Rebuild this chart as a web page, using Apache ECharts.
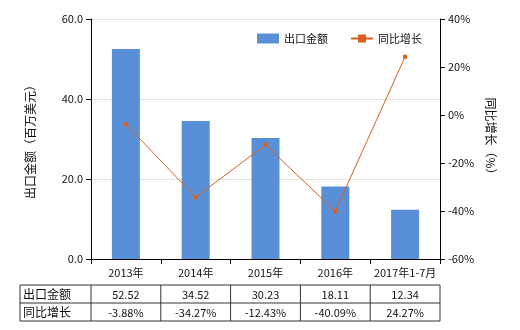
<!DOCTYPE html>
<html><head><meta charset="utf-8">
<script src="https://cdn.jsdelivr.net/npm/echarts@6/dist/echarts.min.js"></script>
<style>html,body{margin:0;padding:0;background:#fff}#c{width:520px;height:330px}</style>
</head><body><div id="c"></div>
<script>
const categories = ['2013年','2014年','2015年','2016年','2017年1-7月'];
const exportValues = [52.52, 34.52, 30.23, 18.11, 12.34];
const growthValues = [-3.88, -34.27, -12.43, -40.09, 24.27];
const rowNames = ['出口金额','同比增长'];
const leftTicks = {min:0, max:60, interval:20};
const rightTicks = {min:-60, max:40, interval:20};

const font = 'Noto Sans CJK SC, sans-serif';
const G = {left:91, right:440, top:19, bottom:259};
const chart = echarts.init(document.getElementById('c'));

// table graphics
const tbl = [];
const colX = [20, 91];
const cw = (G.right - G.left)/categories.length;
for (let i=1;i<=categories.length;i++) colX.push(G.left + cw*i);
const rowY = [285, 303, 321];
const lineStyle = {stroke:'#333', lineWidth:1};
rowY.forEach(y => tbl.push({type:'line', shape:{x1:colX[0], y1:y, x2:colX[colX.length-1], y2:y}, style:lineStyle}));
colX.forEach(x => tbl.push({type:'line', shape:{x1:x, y1:rowY[0], x2:x, y2:rowY[2]}, style:lineStyle}));
const rows = [exportValues.map(v=>v.toFixed(2)), growthValues.map(v=>v.toFixed(2)+'%')];
rows.forEach((r, ri) => {
  const cy = (rowY[ri]+rowY[ri+1])/2;
  tbl.push({type:'text', x:colX[0]+3, y:cy, style:{text:rowNames[ri], font:'12px '+font, fill:'#111', verticalAlign:'middle', align:'left'}});
  r.forEach((t, ci) => {
    tbl.push({type:'text', x:(colX[ci+1]+colX[ci+2])/2, y:cy+1, style:{text:t, font:'11px '+font, fill:'#111', verticalAlign:'middle', align:'center'}});
  });
});

chart.setOption({
  animation:false,
  textStyle:{fontFamily:font},
  grid:{left:G.left, right:520-G.right, top:G.top, bottom:330-G.bottom},
  legend:{top:28, left:252, itemGap:22, itemWidth:22, itemHeight:10,
    textStyle:{fontSize:11, color:'#111', fontFamily:font},
    data:[{name:'出口金额', icon:'rect'}, {name:'同比增长'}]},
  xAxis:{type:'category', data:categories,
    axisLine:{lineStyle:{color:'#000'}}, axisTick:{show:true, lineStyle:{color:'#000'}},
    axisLabel:{fontSize:11, color:'#111', margin:8, interval:0}},
  yAxis:[
    {type:'value', min:leftTicks.min, max:leftTicks.max, interval:leftTicks.interval,
      name:'出口金额（百万美元）', nameLocation:'middle', nameGap:55, nameRotate:90,
      nameTextStyle:{fontSize:12, color:'#111'},
      axisLine:{show:true, lineStyle:{color:'#000'}}, axisTick:{show:true, lineStyle:{color:'#000'}},
      axisLabel:{fontSize:11, color:'#111', formatter:v=>v.toFixed(1)},
      splitLine:{lineStyle:{color:'#e6e6d6'}}},
    {type:'value', min:rightTicks.min, max:rightTicks.max, interval:rightTicks.interval,
      name:'同比增长（%）', nameLocation:'middle', nameGap:42, nameRotate:-90,
      nameTextStyle:{fontSize:12, color:'#111'},
      axisLine:{show:true, lineStyle:{color:'#000'}}, axisTick:{show:true, lineStyle:{color:'#000'}},
      axisLabel:{fontSize:11, color:'#111', formatter:'{value}%'},
      splitLine:{show:false}}
  ],
  series:[
    {name:'出口金额', type:'bar', data:exportValues, barWidth:28, itemStyle:{color:'#588fd6'}},
    {name:'同比增长', type:'line', yAxisIndex:1, data:growthValues, symbol:'rect', symbolSize:4,
      itemStyle:{color:'#d9601c'}, lineStyle:{color:'#d9601c', width:1}}
  ],
  graphic:tbl
});
</script></body></html>
